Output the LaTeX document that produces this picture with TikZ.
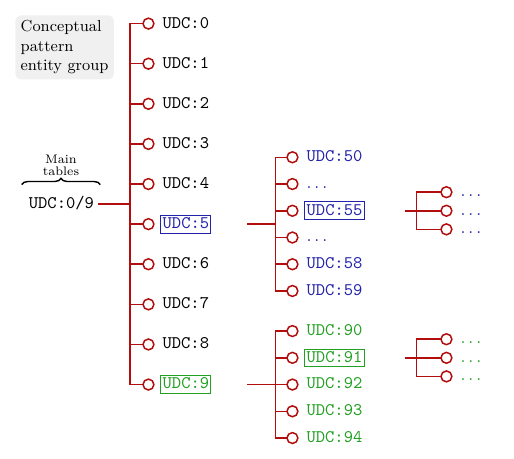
\documentclass[tikz,border=0pt]{standalone}
\usepackage{tikz}
\usetikzlibrary{arrows.meta,decorations.pathreplacing,positioning}

\definecolor{udcred}{RGB}{178,14,14}
\definecolor{udcblue}{RGB}{34,34,170}
\definecolor{udcgreen}{RGB}{34,160,34}

\begin{document}
\begin{tikzpicture}[grow'=right, growth parent anchor=east,
    every child node/.style={anchor=west},
    edge from parent/.style={draw=udcred, line width=.85pt,
      -{Circle[open,length=7pt,width=7pt]}, shorten >=3.3pt},
    level 1/.style={level distance=36.4pt, sibling distance=22.66pt,
      edge from parent path={([xshift=1.2pt]\tikzparentnode.east) --
        ([xshift=19.3pt]\tikzparentnode.east) |- (\tikzchildnode.west)}},
    level 2/.style={level distance=52.6pt, sibling distance=15.11pt,
      edge from parent path={([xshift=20.2pt]\tikzparentnode.east) --
        ([xshift=36.3pt]\tikzparentnode.east) |- (\tikzchildnode.west)}},
    level 3/.style={level distance=53pt, sibling distance=10.5pt,
      edge from parent path={([xshift=22.8pt]\tikzparentnode.east) --
        ([xshift=29.4pt]\tikzparentnode.east) |- (\tikzchildnode.west)}},
    udc/.style={font=\ttfamily, inner sep=1pt, text height=6.5pt, text depth=1.5pt},
    dots/.style={udc, font=\rmfamily},
    boxblue/.style={draw=udcblue, line width=.5pt},
    boxgreen/.style={draw=udcgreen, line width=.5pt}]

  \useasboundingbox (0,0) rectangle (290.4pt,-259.3pt);

  \node[fill=black!6, rounded corners=3pt, align=left, inner sep=3pt,
    font=\small, anchor=north west] (group) at (8.5pt,-8.5pt)
    {Conceptual\\pattern\\entity group};

  \node[udc] (root) at (34.7pt,-115.3pt) {UDC:0/9}
    child {node[udc] (u0) {UDC:0}}
    child {node[udc] (u1) {UDC:1}}
    child {node[udc] (u2) {UDC:2}}
    child {node[udc] (u3) {UDC:3}}
    child {node[udc] (u4) {UDC:4}}
    child[text=udcblue] {
      node[udc,boxblue] (u5) {UDC:5}
      child {node[udc] (u50) {UDC:50}}
      child {node[dots] (u5a) {$\ldots$}}
      child {
        node[udc,boxblue] (u55) {UDC:55}
        child {node[dots] (u55a) {$\ldots$}}
        child {node[dots] (u55b) {$\ldots$}}
        child {node[dots] (u55c) {$\ldots$}}
      }
      child {node[dots] (u5b) {$\ldots$}}
      child {node[udc] (u58) {UDC:58}}
      child {node[udc] (u59) {UDC:59}}
    }
    child {node[udc] (u6) {UDC:6}}
    child {node[udc] (u7) {UDC:7}}
    child {node[udc] (u8) {UDC:8}}
    child[text=udcgreen] {
      node[udc,boxgreen] (u9) {UDC:9}
      child {node[udc] (u90) {UDC:90}}
      child {
        node[udc,boxgreen] (u91) {UDC:91}
        child {node[dots] (u91a) {$\ldots$}}
        child {node[dots] (u91b) {$\ldots$}}
        child {node[dots] (u91c) {$\ldots$}}
      }
      child {node[udc] (u92) {UDC:92}}
      child {node[udc] (u93) {UDC:93}}
      child {node[udc] (u94) {UDC:94}}
    };

  % brace over the main tables
  \draw[decorate, decoration={brace, amplitude=3.5pt}, line width=.8pt]
    ([xshift=-2.9pt,yshift=5.8pt]root.north west) --
    ([xshift=2.4pt,yshift=5.8pt]root.north east)
    node[midway, above=3.5pt, font=\scriptsize, align=center, inner sep=1pt]
    (maintab) {Main\\[-1pt]tables};
\end{tikzpicture}
\end{document}
